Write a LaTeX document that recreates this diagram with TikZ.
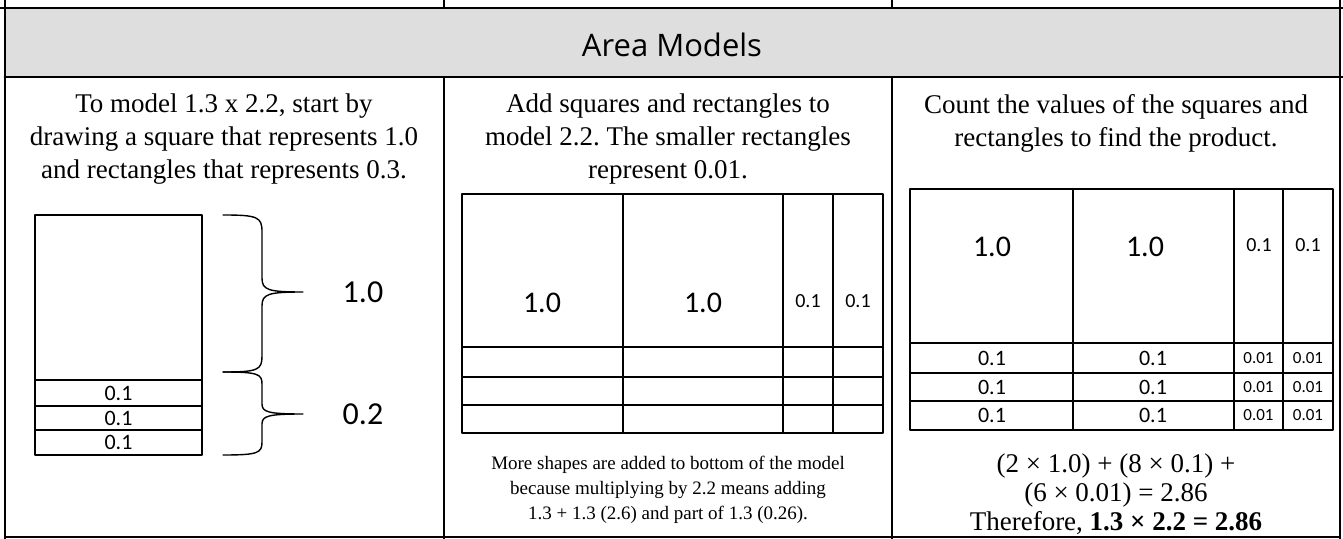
\documentclass[tikz,border=0pt]{standalone}
\usepackage{fontspec}
\setmainfont{Liberation Serif}
\newfontfamily\boxfont{Carlito}
\newfontfamily\headfont{Open Sans}
\frenchspacing
\tikzset{
	cell/.style={draw=black, line width=0.8pt},
	frame/.style={draw=black, line width=1.2pt},
	bigval/.style={font=\boxfont\fontsize{15}{17}\selectfont, inner sep=0pt},
	smallval/.style={font=\boxfont\fontsize{10}{12}\selectfont, inner sep=0pt},
	rowval/.style={font=\boxfont\fontsize{11}{13}\selectfont, inner sep=0pt},
	tinyval/.style={font=\boxfont\fontsize{8.5}{10}\selectfont, inner sep=0pt},
	bracelabel/.style={font=\boxfont\fontsize{16}{18}\selectfont, inner sep=0pt},
	panelnote/.style={align=center, font=\fontsize{13.5}{16.5}\selectfont, inner sep=0pt}
}
\begin{document}
\begin{tikzpicture}[x=0.5pt, y=-0.5pt, line cap=round, line join=round]
	\useasboundingbox (0,0) rectangle (1343,539);
	% header band
	\fill[black!13] (5,8) rectangle (1340,77);
	\draw[frame] (0,8) -- (1343,8);
	\draw[line width=1.4pt] (5,77) -- (1343,77);
	\draw[frame] (5,0) -- (5,539);
	\draw[frame] (1340,0) -- (1340,539);
	\draw[frame] (444,0) -- (444,8);
	\draw[frame] (892,0) -- (892,8);
	\draw[frame] (444,77) -- (444,539);
	\draw[frame] (892,77) -- (892,539);
	\draw[frame] (5,537) -- (1340,537);
	\node[font=\headfont\fontsize{15.5}{18}\selectfont] (title) at (672,45) {Area Models};
	% left panel
	\node[panelnote] (leftnote) at (224,139) {To model 1.3 x 2.2, start by\\drawing a square that represents 1.0\\and rectangles that represents 0.3.};
	\begin{scope}
		\draw[cell] (35,215) rectangle (202,380);
		\foreach \ya/\yb [count=\i] in {380/406, 406/430, 430/455} {
			\draw[cell] (35,\ya) rectangle (202,\yb);
			\node[rowval] (lrow\i) at (118.5,{(\ya+\yb)/2}) {0.1};
		}
		\draw[line width=0.7pt] (223,215) .. controls (258,215) and (262,217) .. (262,232) -- (262,278) .. controls (262,290) and (268,292) .. (303,292) .. controls (268,292) and (262,294) .. (262,306) -- (262,356) .. controls (262,370) and (258,372) .. (223,372);
		\draw[line width=0.7pt] (223,372) .. controls (258,372) and (262,374) .. (262,384) -- (262,404) .. controls (262,412) and (268,414) .. (303,414) .. controls (268,414) and (262,416) .. (262,424) -- (262,442) .. controls (262,453) and (258,455) .. (223,455);
		\node[bracelabel] (onebrace) at (363,292) {1.0};
		\node[bracelabel] (twobrace) at (363,414) {0.2};
	\end{scope}
	% middle panel
	\node[panelnote] (midnote) at (668,139) {Add squares and rectangles to\\model 2.2. The smaller rectangles\\represent 0.01.};
	\begin{scope}
		\foreach \xa/\xb in {462/623, 623/783, 783/833, 833/883} {
			\foreach \ya/\yb in {194/347, 347/377, 377/405, 405/433} {
				\draw[cell] (\xa,\ya) rectangle (\xb,\yb);
			}
		}
		\node[bigval] (mone) at (542,303) {1.0};
		\node[bigval] (mtwo) at (703,303) {1.0};
		\node[smallval] (mthree) at (808,301) {0.1};
		\node[smallval] (mfour) at (858,301) {0.1};
	\end{scope}
	\node[panelnote, font=\fontsize{9.5}{12.5}\selectfont] (midfoot) at (668,490) {More shapes are added to bottom of the model\\because multiplying by 2.2 means adding\\1.3 + 1.3 (2.6) and part of 1.3 (0.26).};
	% right panel
	\node[panelnote] (rightnote) at (1116,123) {Count the values of the squares and\\rectangles to find the product.};
	\begin{scope}
		\foreach \xa/\xb in {910/1073, 1073/1234, 1234/1283, 1283/1333} {
			\foreach \ya/\yb in {189/343, 343/373, 373/401, 401/430} {
				\draw[cell] (\xa,\ya) rectangle (\xb,\yb);
			}
		}
		\node[bigval] (rone) at (992,247) {1.0};
		\node[bigval] (rtwo) at (1145,247) {1.0};
		\node[smallval] (rthree) at (1259,245) {0.1};
		\node[smallval] (rfour) at (1308,245) {0.1};
		\foreach \y [count=\i] in {358, 387, 415.5} {
			\node[rowval] (rrowa\i) at (992,\y) {0.1};
			\node[rowval] (rrowb\i) at (1153,\y) {0.1};
			\node[tinyval] (rrowc\i) at (1258.5,\y) {0.01};
			\node[tinyval] (rrowd\i) at (1308,\y) {0.01};
		}
	\end{scope}
	\node[panelnote, font=\fontsize{13.5}{14.5}\selectfont] (rightfoot) at (1116,494) {(2 × 1.0) + (8 × 0.1) +\\(6 × 0.01) = 2.86\\Therefore, \textbf{1.3 × 2.2 = 2.86}};
\end{tikzpicture}
\end{document}
